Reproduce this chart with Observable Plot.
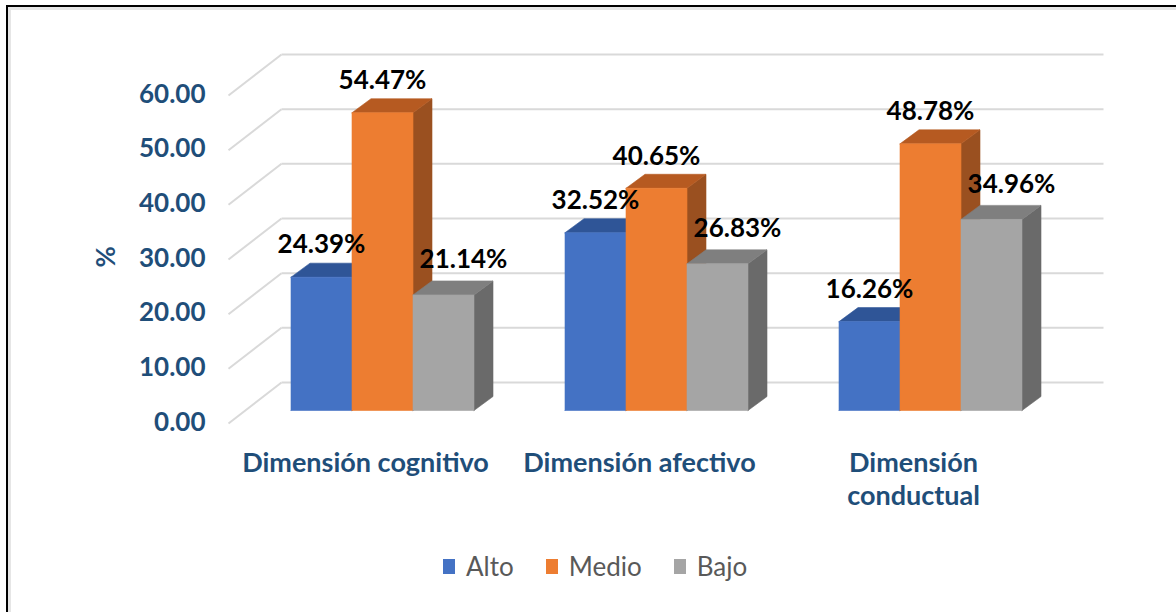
<!DOCTYPE html>
<html><head><meta charset="utf-8">
<script src="https://cdn.jsdelivr.net/npm/d3@7"></script>
<script src="https://cdn.jsdelivr.net/npm/@observablehq/plot@0.6"></script>
<style>
body{margin:0;background:#fff;}
#wrap{position:relative;width:1176px;height:612px;overflow:hidden;font-family:Lato,sans-serif;background:#fff;}
#chart{position:absolute;left:0;top:0;}
#frame{position:absolute;left:6px;top:5px;right:-20px;bottom:-20px;border-top:2px solid #000;border-left:2px solid #000;box-shadow:inset 3px 3px 0 #e6e6e6;pointer-events:none;}
#legend{position:absolute;top:550px;left:443px;display:flex;align-items:center;font-size:26px;color:#595959;line-height:32px;}
#legend .item{display:flex;align-items:center;margin-right:32px;}
#legend .sw{width:12px;height:15px;margin-right:11px;}
</style>
</head><body>
<div id="wrap"><div id="chart"></div><div id="legend"></div><div id="frame"></div></div>
<script>
const categories = ["Dimensión cognitivo", "Dimensión afectivo", "Dimensión conductual"];
const categoryLabels = ["Dimensión cognitivo", "Dimensión afectivo", "Dimensión\nconductual"];
const seriesNames = ["Alto", "Medio", "Bajo"];
const alto = [24.39, 32.52, 16.26];
const medio = [54.47, 40.65, 48.78];
const bajo = [21.14, 26.83, 34.96];
const yTicks = [0, 10, 20, 30, 40, 50, 60];

const values = [alto, medio, bajo];
const palette = {
  Alto: {front: "#4472C4", top: "#2F5597", side: "#2A4E8A"},
  Medio: {front: "#ED7D31", top: "#B65A21", side: "#9A5020"},
  Bajo: {front: "#A5A5A5", top: "#7F7F7F", side: "#6A6A6A"}
};

// layout
const W = 1176, H = 540, ML = 245, MR = 109, MT = 82, MB = 130;
const pxX = (W - ML - MR) / categories.length;
const pxY = (H - MT - MB) / 60;
const BAR = 61 / pxX, dX = 19 / pxX, dY = 14 / pxY;
const fX = -17 / pxX, fY = -13 / pxY, bX = 36 / pxX, bY = 28 / pxY;

const rows = [];
categories.forEach((c, i) => seriesNames.forEach((s, j) => {
  const v = values[j][i];
  const x1 = i + 0.5 - 1.5 * BAR + j * BAR;
  rows.push({c, i, s, j, v, x1, x2: x1 + BAR});
}));

const pts = [];
rows.forEach((r, k) => {
  const add = (face, arr) => {
    arr.push(arr[0]);
    arr.forEach(([x, y]) => pts.push({id: k + "-" + face, x, y, fill: palette[r.s][face]}));
  };
  add("side", [[r.x2, 0], [r.x2, r.v], [r.x2 + dX, r.v + dY], [r.x2 + dX, dY]]);
  add("top", [[r.x1, r.v], [r.x2, r.v], [r.x2 + dX, r.v + dY], [r.x1 + dX, r.v + dY]]);
  add("front", [[r.x1, 0], [r.x2, 0], [r.x2, r.v], [r.x1, r.v]]);
});

const blue = "#1F4E79";
const chart = Plot.plot({
  width: W, height: H,
  marginLeft: ML, marginRight: MR, marginTop: MT, marginBottom: MB,
  style: {background: "transparent", fontFamily: "Lato, sans-serif", overflow: "visible"},
  x: {domain: [0, categories.length], axis: null},
  y: {domain: [0, 60], axis: null},
  color: {type: "identity"},
  marks: [
    Plot.link(yTicks, {x1: () => bX, x2: () => categories.length + bX, y1: d => d + bY, y2: d => d + bY, stroke: "#D9D9D9", strokeWidth: 2}),
    Plot.link(yTicks, {x1: () => fX, y1: d => d + fY, x2: () => bX, y2: d => d + bY, stroke: "#D9D9D9", strokeWidth: 2}),
    Plot.line(pts, {x: "x", y: "y", z: "id", fill: "fill", stroke: "fill", strokeWidth: 0.6, curve: "linear"}),
    Plot.text(rows.filter(r => r.s !== "Bajo"), {x: r => (r.x1 + r.x2) / 2, y: "v", text: r => r.v.toFixed(2) + "%", dy: -32, fontSize: 26, fontWeight: "bold", fill: "#000"}),
    Plot.text(rows.filter(r => r.s === "Bajo"), {x: r => (r.x1 + r.x2) / 2, y: "v", text: r => r.v.toFixed(2) + "%", dy: -35, dx: 20, fontSize: 26, fontWeight: "bold", fill: "#000"}),
    Plot.text(yTicks, {x: () => fX, y: d => d + fY, text: d => d.toFixed(2), textAnchor: "end", dx: -23, dy: -1, fontSize: 26, fontWeight: "bold", fill: blue}),
    Plot.text(categoryLabels, {x: (d, i) => i + 0.5 + fX, y: () => fY, text: d => d, lineAnchor: "top", dy: 25, lineHeight: 1.22, fontSize: 27, fontWeight: "bold", fill: blue}),
    Plot.text(["%"], {frameAnchor: "left", dx: -139, dy: 21, rotate: -90, text: d => d, fontSize: 26, fontWeight: "bold", fill: blue})
  ]
});
document.getElementById("chart").appendChild(chart);

const legend = document.getElementById("legend");
seriesNames.forEach(s => {
  const it = document.createElement("div"); it.className = "item";
  const sw = document.createElement("div"); sw.className = "sw"; sw.style.background = palette[s].front;
  const tx = document.createElement("span"); tx.textContent = s;
  it.appendChild(sw); it.appendChild(tx); legend.appendChild(it);
});
</script>
</body></html>
